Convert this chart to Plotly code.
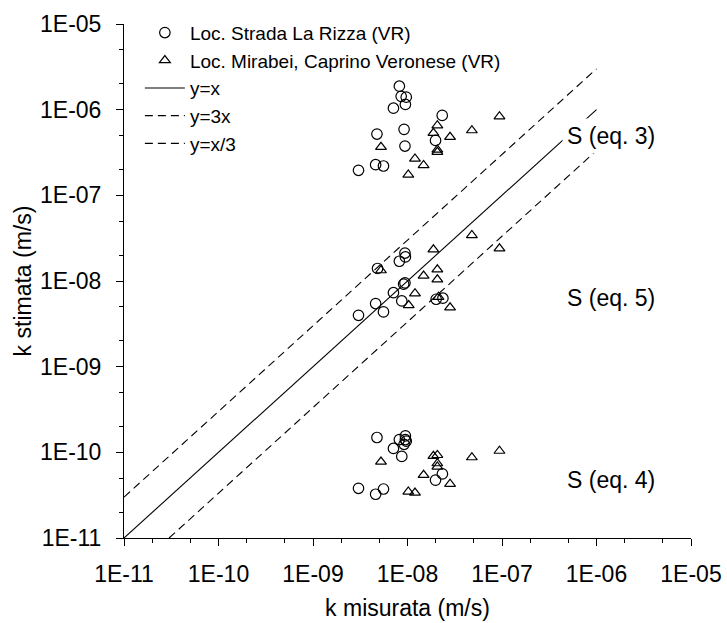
import plotly.graph_objects as go

# ---- data ----
# Loc. Strada La Rizza (VR) - circles
rizza_x = [8.2e-9, 8.57e-9, 9.7e-9, 9.5e-9, 7.1e-9, 2.33e-8, 4.75e-9, 9.2e-9, 1.98e-8, 9.4e-9, 4.6e-9, 5.57e-9, 3.03e-9,
           9.4e-9, 9.5e-9, 8.2e-9, 4.82e-9, 9.4e-9, 9.1e-9, 7.1e-9, 8.7e-9, 4.6e-9, 5.57e-9, 3.03e-9, 2.01e-8, 2.37e-8,
           4.75e-9, 8.2e-9, 9.5e-9, 9.5e-9, 9.2e-9, 7.1e-9, 8.7e-9, 2.34e-8, 1.98e-8, 3.03e-9, 5.57e-9, 4.6e-9, 9.7e-9]
rizza_y = [1.88e-6, 1.43e-6, 1.40e-6, 1.15e-6, 1.04e-6, 8.57e-7, 5.19e-7, 5.89e-7, 4.38e-7, 3.76e-7, 2.28e-7, 2.20e-7, 1.96e-7,
           2.12e-8, 1.91e-8, 1.70e-8, 1.40e-8, 9.5e-9, 9.2e-9, 7.3e-9, 5.85e-9, 5.45e-9, 4.36e-9, 3.98e-9, 6.12e-9, 6.3e-9,
           1.49e-10, 1.41e-10, 1.56e-10, 1.41e-10, 1.24e-10, 1.11e-10, 8.97e-11, 5.6e-11, 4.74e-11, 3.8e-11, 3.73e-11, 3.24e-11, 1.35e-10]

# Loc. Mirabei, Caprino Veronese (VR) - triangles
mirabei_x = [5.24e-9, 2.07e-8, 1.88e-8, 2.82e-8, 4.8e-8, 9.4e-8, 2.07e-8, 2.07e-8, 1.2e-8, 1.48e-8, 1.02e-8,
             4.8e-8, 1.88e-8, 9.4e-8, 5.24e-9, 2.07e-8, 1.48e-8, 2.07e-8, 1.2e-8, 1.03e-8, 2.13e-8, 2.82e-8,
             5.24e-9, 1.88e-8, 2.07e-8, 2.07e-8, 2.07e-8, 1.48e-8, 2.82e-8, 4.8e-8, 9.4e-8, 1.02e-8, 1.2e-8]
mirabei_y = [3.66e-7, 6.55e-7, 5.33e-7, 4.79e-7, 5.73e-7, 8.34e-7, 3.41e-7, 3.2e-7, 2.68e-7, 2.25e-7, 1.74e-7,
             3.42e-8, 2.33e-8, 2.39e-8, 1.33e-8, 1.36e-8, 1.15e-8, 1.04e-8, 7.15e-9, 5.2e-9, 6.52e-9, 4.9e-9,
             7.76e-11, 9.04e-11, 9.28e-11, 7.43e-11, 6.79e-11, 5.43e-11, 4.27e-11, 8.73e-11, 1.04e-10, 3.47e-11, 3.37e-11]

# reference lines
line_yx_x = [1e-11, 1e-6]
line_yx_y = [1e-11, 1e-6]
line_y3x_x = [1e-11, 1e-6]
line_y3x_y = [3e-11, 3e-6]
line_yx3_x = [3e-11, 1e-6]
line_yx3_y = [1e-11, 3.333e-7]

tick_vals = [1e-11, 1e-10, 1e-9, 1e-8, 1e-7, 1e-6, 1e-5]
tick_text = ["1E-11", "1E-10", "1E-09", "1E-08", "1E-07", "1E-06", "1E-05"]

labels = ["S (eq. 3)", "S (eq. 5)", "S (eq. 4)"]
label_pos_y = [0.783, 0.466, 0.113]

FONT = "Arial, Liberation Sans, sans-serif"

fig = go.Figure()
fig.add_trace(go.Scatter(x=rizza_x, y=rizza_y, mode="markers", name="Loc. Strada La Rizza (VR)",
                         marker=dict(symbol="circle-open", size=10.5, color="black", line=dict(width=1.2, color="black"))))
fig.add_trace(go.Scatter(x=mirabei_x, y=mirabei_y, mode="markers", name="Loc. Mirabei, Caprino Veronese (VR)",
                         marker=dict(symbol="triangle-up-open", size=9.5, color="black", line=dict(width=1.2, color="black"))))
fig.add_trace(go.Scatter(x=line_yx_x, y=line_yx_y, mode="lines", name="y=x",
                         line=dict(color="black", width=1.1)))
fig.add_trace(go.Scatter(x=line_y3x_x, y=line_y3x_y, mode="lines", name="y=3x",
                         line=dict(color="black", width=1.1, dash="8px,5px")))
fig.add_trace(go.Scatter(x=line_yx3_x, y=line_yx3_y, mode="lines", name="y=x/3",
                         line=dict(color="black", width=1.1, dash="8px,5px")))

for txt, yp in zip(labels, label_pos_y):
    fig.add_annotation(text=txt, xref="paper", yref="paper", x=0.859, y=yp, showarrow=False,
                       xanchor="center", yanchor="middle",
                       font=dict(family=FONT, size=23, color="black"), bgcolor="white", borderpad=4)

axis_common = dict(type="log", range=[-11, -5], tickvals=tick_vals, ticktext=tick_text,
                   showgrid=False, zeroline=False, showline=True, linecolor="black", linewidth=1,
                   ticks="outside", ticklen=7, tickwidth=1, tickcolor="black",
                   tickfont=dict(family=FONT, size=23, color="black"),
                   minor=dict(ticks="outside", ticklen=4, tickwidth=1, tickcolor="black", showgrid=False))

fig.update_xaxes(**axis_common, ticklabelstandoff=8,
                 title=dict(text="k misurata (m/s)", font=dict(family=FONT, size=23, color="black"), standoff=14))
fig.update_yaxes(**axis_common, ticklabelstandoff=10,
                 title=dict(text="k stimata (m/s)", font=dict(family=FONT, size=23, color="black"), standoff=1))

fig.update_layout(width=727, height=623, margin=dict(l=124, r=36, t=24, b=85, autoexpand=False),
                  paper_bgcolor="white", plot_bgcolor="white",
                  font=dict(family=FONT, color="black"),
                  legend=dict(x=0.028, y=1.02, xanchor="left", yanchor="top", bgcolor="rgba(0,0,0,0)",
                              font=dict(family=FONT, size=19, color="black"), itemwidth=40,
                              tracegroupgap=0))

fig.write_html("out.html")
